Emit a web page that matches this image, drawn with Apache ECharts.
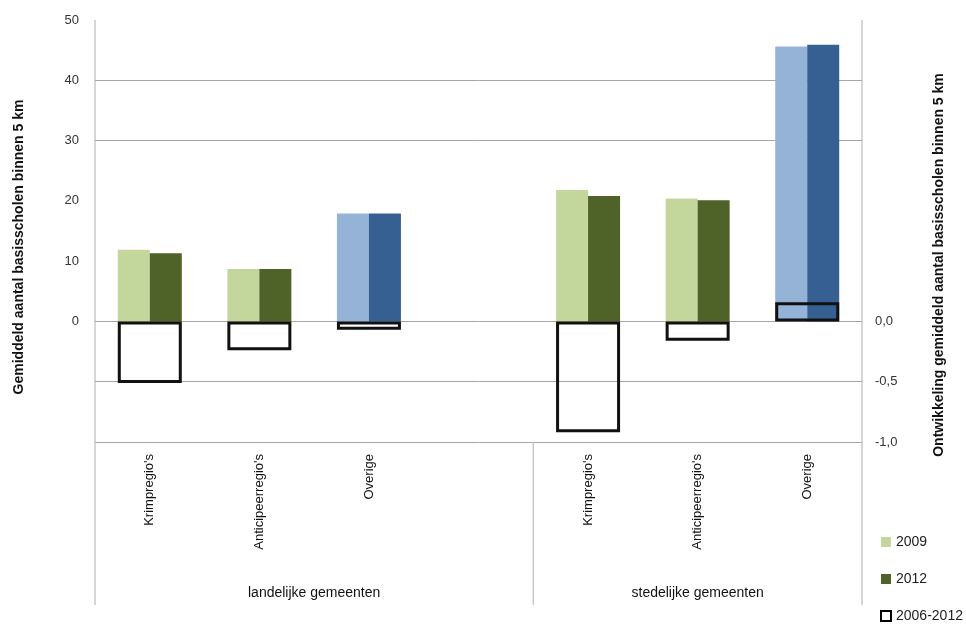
<!DOCTYPE html>
<html>
<head>
<meta charset="utf-8">
<script src="https://cdn.jsdelivr.net/npm/echarts@6/dist/echarts.min.js"></script>
<style>html,body{margin:0;padding:0;background:#fff;}#c{width:966px;height:627px;}</style>
</head>
<body>
<div id="c"></div>
<script>
var categories = ["Krimpregio's", "Anticipeerregio's", "Overige", "", "Krimpregio's", "Anticipeerregio's", "Overige"];
var groups = ["landelijke gemeenten", "stedelijke gemeenten"];
var values2009 = [11.9, 8.7, 17.9, null, 21.8, 20.4, 45.6];
var values2012 = [11.3, 8.7, 17.9, null, 20.8, 20.1, 45.9];
var change20062012 = [-0.51, -0.24, -0.07, null, -0.92, -0.16, 0.16];
var gridValues = [40, 30, 0, -10];

var FONT = '"Liberation Sans Narrow", "Liberation Sans", Arial, sans-serif';
var G = {left: 95, right: 104, top: 20, bottom: 185};
var W = 966, H = 627;
var plotW = W - G.left - G.right;
var slot = plotW / categories.length;
var bottomY = H - G.bottom;
var extY = 605;

function colored(vals, green, blue) {
  return vals.map(function (v, i) {
    return {value: v, itemStyle: {color: categories[i] === 'Overige' ? blue : green}};
  });
}

var chart = echarts.init(document.getElementById('c'));
chart.setOption({
  animation: false,
  textStyle: {fontFamily: FONT},
  grid: {left: G.left, right: G.right, top: G.top, bottom: G.bottom, containLabel: false},
  legend: {
    orient: 'vertical', left: 880, top: 535, padding: 0, itemWidth: 10, itemHeight: 10, itemGap: 23,
    icon: 'rect',
    textStyle: {fontFamily: FONT, fontSize: 14, color: '#222'},
    data: [
      {name: '2009'},
      {name: '2012'},
      {name: '2006-2012', itemStyle: {color: '#fff', borderColor: '#000', borderWidth: 2}}
    ]
  },
  xAxis: [
    {
      type: 'category', data: categories, position: 'bottom',
      axisLine: {show: true, onZero: false, lineStyle: {color: '#a6a6a6', width: 1}},
      axisTick: {show: false},
      axisLabel: {rotate: 90, margin: 12, interval: 0, fontSize: 13, color: '#111', fontFamily: FONT}
    },
    {type: 'category', data: categories, show: false}
  ],
  yAxis: [
    {
      type: 'value', min: -20, max: 50, interval: 10, position: 'left',
      axisLine: {show: false}, axisTick: {show: false}, splitLine: {show: false},
      axisLabel: {margin: 16, fontSize: 13, color: '#333', fontFamily: FONT,
        formatter: function (v) { return v >= 0 ? String(v) : ''; }}
    },
    {
      type: 'value', min: -1, max: 2.5, interval: 0.5, position: 'right',
      axisLine: {show: false}, axisTick: {show: false}, splitLine: {show: false},
      axisLabel: {margin: 13, fontSize: 13, color: '#333', fontFamily: FONT,
        formatter: function (v) { return v <= 0 ? (v === 0 ? '0,0' : v.toFixed(1).replace('.', ',')) : ''; }}
    }
  ],
  series: [
    {
      name: '2009', type: 'bar', xAxisIndex: 0, yAxisIndex: 0, barWidth: 32, barGap: 0, z: 3,
      itemStyle: {color: '#c3d69b'},
      data: colored(values2009, '#c3d69b', '#95b3d7'),
      markLine: {
        silent: true, symbol: ['none', 'none'], z: 1,
        label: {show: false},
        lineStyle: {color: '#a6a6a6', type: 'solid', width: 1},
        data: gridValues.map(function (v) { return {yAxis: v}; })
      }
    },
    {
      name: '2012', type: 'bar', xAxisIndex: 0, yAxisIndex: 0, barWidth: 32, barGap: 0, z: 3,
      itemStyle: {color: '#4f6228'},
      data: colored(values2012, '#4f6228', '#376092')
    },
    {
      name: '2006-2012', type: 'bar', xAxisIndex: 1, yAxisIndex: 1, barWidth: 64, z: 4,
      itemStyle: {color: 'rgba(0,0,0,0)', borderColor: '#111', borderWidth: 3},
      data: change20062012
    }
  ],
  graphic: [
    {type: 'line', shape: {x1: G.left, y1: G.top, x2: G.left, y2: extY}, style: {stroke: '#c8c8c8', lineWidth: 1.5}, z: 1},
    {type: 'line', shape: {x1: W - G.right, y1: G.top, x2: W - G.right, y2: extY}, style: {stroke: '#c8c8c8', lineWidth: 1.5}, z: 1},
    {type: 'line', shape: {x1: G.left + 4 * slot, y1: bottomY, x2: G.left + 4 * slot, y2: extY}, style: {stroke: '#c8c8c8', lineWidth: 1.5}, z: 1},
    {type: 'text', x: G.left + 2 * slot, y: 593, style: {text: groups[0], font: '14px ' + FONT, fill: '#111', align: 'center', verticalAlign: 'middle'}},
    {type: 'text', x: G.left + 5.5 * slot, y: 593, style: {text: groups[1], font: '14px ' + FONT, fill: '#111', align: 'center', verticalAlign: 'middle'}},
    {type: 'text', x: 19, y: 247, rotation: Math.PI / 2, style: {text: 'Gemiddeld aantal basisscholen binnen 5 km', font: 'bold 14px ' + FONT, fill: '#111', align: 'center', verticalAlign: 'middle'}},
    {type: 'text', x: 939, y: 265, rotation: Math.PI / 2, style: {text: 'Ontwikkeling gemiddeld aantal basisscholen binnen 5 km', font: 'bold 14px ' + FONT, fill: '#111', align: 'center', verticalAlign: 'middle'}}
  ]
});
</script>
</body>
</html>
